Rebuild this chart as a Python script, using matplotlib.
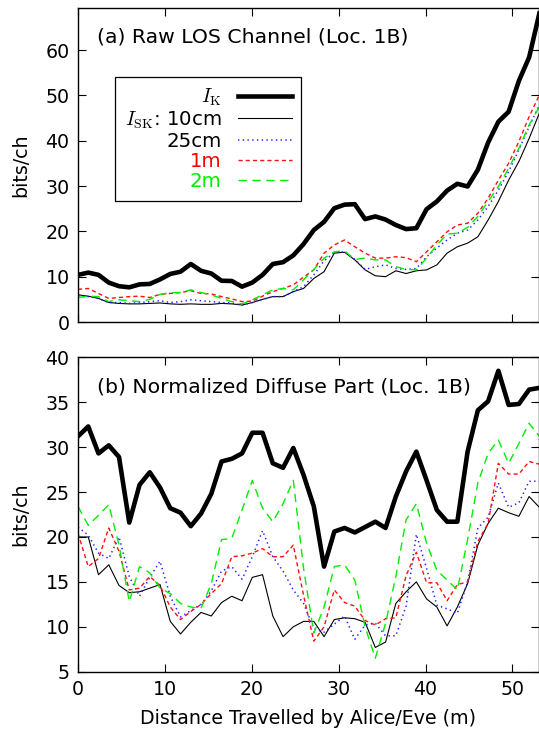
import numpy as np
import matplotlib
matplotlib.use("Agg")
import matplotlib.pyplot as plt

plt.rcParams['font.family'] = ['DejaVu Sans']
plt.rcParams['mathtext.fontset'] = 'cm'

# ---------------- data ----------------
step = 1.18
n_points = 46
distance = np.arange(n_points) * step

# (a) Raw LOS Channel
raw_IK = [10.4, 10.9, 10.4, 8.7, 7.9, 7.65, 8.3, 8.4, 9.4, 10.6, 11.1, 12.8, 11.3, 10.7, 9.1, 9.05,
          7.8, 8.7, 10.4, 12.8, 13.2, 14.7, 17.2, 20.3, 22.1, 25.1, 25.9, 26.0, 22.7, 23.3, 22.6,
          21.4, 20.5, 20.7, 24.9, 26.6, 29.0, 30.5, 29.9, 33.6, 39.6, 44.2, 46.4, 53.2, 58.4, 68.1]
raw_10cm = [6.0, 5.7, 5.2, 4.3, 4.1, 4.0, 4.0, 4.1, 4.2, 4.0, 3.9, 4.0, 3.9, 3.9, 4.1, 4.0,
            3.75, 4.3, 5.0, 5.6, 5.6, 6.7, 7.4, 9.6, 11.1, 15.2, 15.4, 13.7, 11.5, 10.2,
            10.0, 11.3, 10.7, 11.3, 11.5, 12.6, 15.2, 16.6, 17.4, 18.8, 22.5, 26.6, 31.3, 35.4, 40.5, 46.1]
raw_25cm = [5.7, 5.6, 5.2, 4.3, 4.3, 4.1, 4.3, 4.5, 4.7, 4.3, 4.5, 4.9, 4.7, 4.5, 4.3, 4.2,
            3.75, 4.3, 5.0, 5.6, 5.6, 6.7, 7.8, 10.4, 13.5, 15.3, 15.5, 13.8, 11.6, 12.2,
            12.6, 11.8, 11.6, 11.8, 14.4, 16.3, 18.1, 19.6, 20.3, 22.5, 25.5, 29.1, 33.2, 38.0, 43.1, 47.9]
raw_1m = [7.2, 7.4, 6.3, 5.2, 5.4, 5.6, 5.7, 5.4, 6.1, 6.3, 6.5, 6.9, 6.3, 6.2, 5.6, 5.1,
          4.5, 4.6, 5.7, 6.7, 7.4, 8.2, 9.9, 11.5, 15.2, 17.0, 18.1, 16.6, 15.2, 14.1,
          14.1, 14.4, 14.2, 13.3, 15.5, 17.7, 19.9, 21.4, 21.8, 24.0, 27.3, 31.3, 35.0, 39.8, 45.3, 50.1]
raw_2m = [5.4, 5.7, 5.6, 4.5, 4.9, 4.7, 4.5, 5.0, 6.1, 6.5, 6.5, 7.1, 6.5, 6.0, 5.2, 4.5,
          4.0, 4.9, 6.0, 7.1, 7.4, 7.1, 9.3, 11.6, 14.1, 15.5, 15.7, 13.8, 14.1, 13.7,
          13.7, 12.2, 11.6, 11.5, 14.1, 17.0, 19.4, 19.6, 20.9, 23.3, 26.6, 29.9, 33.9, 38.3, 43.5, 47.5]

# (b) Normalized Diffuse Part
dif_IK = [31.2, 32.3, 29.3, 30.2, 28.9, 21.6, 25.8, 27.2, 25.5, 23.2, 22.7, 21.2, 22.6, 24.8, 28.4,
          28.7, 29.3, 31.6, 31.6, 28.2, 27.7, 29.9, 26.9, 23.4, 16.7, 20.6, 21.0, 20.5, 21.1, 21.7,
          21.0, 24.5, 27.3, 29.5, 26.3, 23.0, 21.7, 21.7, 29.5, 34.1, 35.1, 38.5, 34.7, 34.8, 36.4, 36.6]
dif_10cm = [20.0, 20.0, 15.8, 16.9, 14.6, 13.8, 13.9, 14.3, 14.7, 10.6, 9.2, 10.5, 11.6, 11.2, 12.7,
            13.4, 12.9, 15.5, 15.8, 11.2, 8.9, 10.0, 10.6, 10.6, 8.9, 10.8, 11.0, 10.9, 10.5, 7.7,
            8.3, 12.6, 13.9, 15.0, 13.1, 12.2, 10.1, 12.2, 14.8, 19.1, 21.5, 23.2, 22.7, 22.3, 24.5, 23.3]
dif_25cm = [21.1, 20.2, 18.2, 17.6, 20.0, 15.6, 13.4, 15.5, 17.3, 13.4, 11.1, 11.8, 12.5, 14.0, 16.2,
            16.7, 15.3, 17.8, 20.7, 17.8, 16.2, 14.1, 12.6, 9.8, 9.4, 10.3, 11.2, 8.6, 10.2, 10.4,
            9.0, 9.0, 12.3, 20.3, 16.5, 12.4, 12.0, 11.5, 15.0, 21.0, 22.2, 26.0, 23.3, 23.8, 26.2, 26.2]
dif_1m = [20.4, 16.7, 17.6, 21.0, 18.4, 14.1, 14.3, 15.6, 14.6, 12.2, 10.8, 11.7, 12.5, 13.7, 14.8,
          17.8, 17.9, 18.2, 18.7, 17.8, 17.8, 19.1, 13.5, 8.4, 10.0, 14.1, 12.7, 12.3, 10.7, 10.2,
          10.9, 11.0, 15.7, 18.3, 14.9, 14.9, 12.9, 14.7, 15.0, 19.5, 21.5, 28.2, 27.0, 27.0, 28.4, 28.1]
dif_2m = [23.4, 21.3, 22.4, 23.6, 19.1, 12.8, 16.7, 16.0, 14.3, 13.7, 12.6, 12.2, 12.05, 14.8, 19.7,
          19.85, 23.0, 26.3, 23.2, 21.7, 23.7, 26.3, 16.5, 9.3, 12.2, 16.7, 16.9, 15.2, 10.0, 6.5,
          10.4, 15.6, 21.9, 23.7, 19.3, 16.3, 15.2, 14.1, 19.7, 26.0, 29.3, 30.8, 28.2, 30.4, 32.65, 31.2]

labels = [r'$I_{\mathrm{K}}$', r'$I_{\mathrm{SK}}$: 10cm', '25cm', '1m', '2m']
label_colors = ['black', 'black', 'black', 'red', '#00ee00']
x_ticks = [0, 10, 20, 30, 40, 50]
top_yticks = [0, 10, 20, 30, 40, 50, 60]
bot_yticks = [5, 10, 15, 20, 25, 30, 35, 40]

# ---------------- styles ----------------
styles = [
    dict(color='black', lw=3.3, ls='-'),
    dict(color='black', lw=0.8, ls='-'),
    dict(color='#2020ff', lw=1.1, ls=(0, (0.9, 2.2))),
    dict(color='#ff1010', lw=1.0, ls=(0, (3.0, 2.2))),
    dict(color='#00ee00', lw=1.0, ls=(0, (6.0, 4.0))),
]

W, H = 539, 731
fig = plt.figure(figsize=(W / 100, H / 100), dpi=100)
ax1 = fig.add_axes([78 / W, 1 - 322 / H, (538.5 - 78) / W, (322 - 7.5) / H])
ax2 = fig.add_axes([78 / W, 1 - 671.7 / H, (538.5 - 78) / W, (671.7 - 357.3) / H])

FS = 13.7

def style_axes(ax):
    ax.tick_params(direction='in', top=True, right=True, length=5.5, width=0.8,
                   labelsize=FS, pad=6)
    for s in ax.spines.values():
        s.set_linewidth(1.0)
    ax.set_xlim(0, 53)
    ax.set_xticks(x_ticks)
    ax.set_ylabel('bits/ch', fontsize=FS, labelpad=11)

top_series = [raw_IK, raw_10cm, raw_25cm, raw_1m, raw_2m]
bot_series = [dif_IK, dif_10cm, dif_25cm, dif_1m, dif_2m]

lines = []
for ys, st, lab in zip(top_series, styles, labels):
    ln, = ax1.plot(distance, ys, label=lab, **st)
    lines.append(ln)
for ys, st in zip(bot_series, styles):
    ax2.plot(distance, ys, **st)

style_axes(ax1)
style_axes(ax2)
ax1.set_ylim(0, 69.4)
ax1.set_yticks(top_yticks)
ax1.tick_params(labelbottom=False)
ax2.set_ylim(5, 40)
ax2.set_yticks(bot_yticks)
ax2.set_xlabel('Distance Travelled by Alice/Eve (m)', fontsize=FS, labelpad=7)

ax1.text(0.042, 0.906, '(a) Raw LOS Channel (Loc. 1B)', transform=ax1.transAxes,
         fontsize=14.7, va='center', ha='left')
ax2.text(0.042, 0.906, '(b) Normalized Diffuse Part (Loc. 1B)', transform=ax2.transAxes,
         fontsize=14.7, va='center', ha='left')

leg = ax1.legend(handles=lines, loc='upper left', bbox_to_anchor=(37 / 460.5, 1 - 69.5 / 314.5),
                 markerfirst=False, fontsize=14.2, frameon=True, fancybox=False,
                 edgecolor='black', framealpha=1, handlelength=2.7, handletextpad=0.85,
                 labelspacing=0.06, borderpad=0.5, borderaxespad=0)
leg.get_frame().set_linewidth(0.9)
for t, c in zip(leg.get_texts(), label_colors):
    t.set_color(c)

fig.savefig('out.png', dpi=100)
